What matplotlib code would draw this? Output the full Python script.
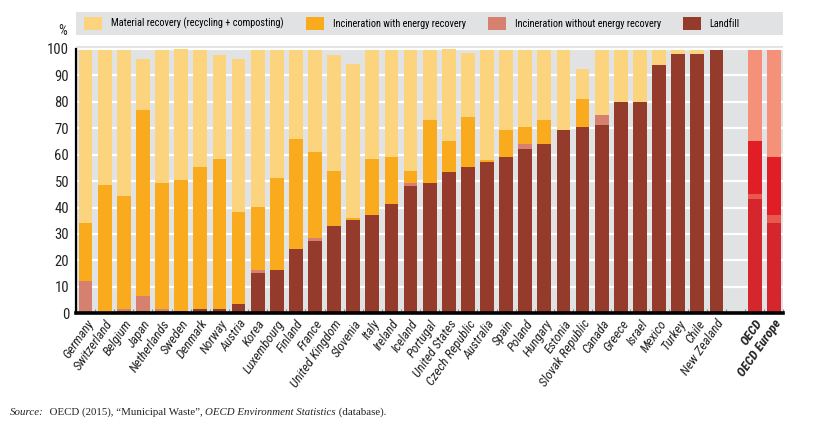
import numpy as np
import matplotlib
matplotlib.use("Agg")
import matplotlib.pyplot as plt
from matplotlib import font_manager as fm
from matplotlib.patches import Patch, Rectangle

# pick a narrow sans if one is around, the original uses a condensed face
_fonts = {(f.name, f.stretch) for f in fm.fontManager.ttflist}
_names = {f[0] for f in _fonts}
stretch = "normal"
if "Liberation Sans Narrow" in _names:
    family = "Liberation Sans Narrow"
elif "Roboto Condensed" in _names:
    family = "Roboto Condensed"
elif ("DejaVu Sans", "condensed") in _fonts or ("DejaVu Sans", "semi-condensed") in _fonts:
    family = "DejaVu Sans"
    stretch = "condensed"
else:
    family = "Liberation Sans"
plt.rcParams['font.family'] = [family, 'DejaVu Sans']
plt.rcParams['font.stretch'] = stretch

# Municipal waste treatment, share of total (%)
countries = ["Germany", "Switzerland", "Belgium", "Japan", "Netherlands", "Sweden",
             "Denmark", "Norway", "Austria", "Korea", "Luxembourg", "Finland", "France",
             "United Kingdom", "Slovenia", "Italy", "Ireland", "Iceland", "Portugal",
             "United States", "Czech Republic", "Australia", "Spain", "Poland", "Hungary",
             "Estonia", "Slovak Republic", "Canada", "Greece", "Israel", "Mexico", "Turkey",
             "Chile", "New Zealand"]
landfill = [0.3, 0.2, 1.0, 1.0, 1.0, 0.7, 1.7, 1.8, 3.5, 15.4, 16.5, 24.2, 27.5,
            33.2, 35.2, 37.1, 41.3, 48.2, 49.1, 53.3, 55.2, 57.1, 59.1, 62.2, 64.1,
            69.2, 70.3, 71.1, 80.0, 80.0, 93.9, 98.2, 98.2, 99.5]
incin_wo = [12.0, 0, 0.8, 5.6, 0.8, 0, 0, 0, 0, 1.0, 0, 0, 0.8,
            0, 0, 0, 0, 1.0, 0, 0, 0, 0, 0, 1.9, 0,
            0, 0, 3.9, 0, 0, 0, 0, 0, 0]
incin_w = [22.0, 48.2, 42.5, 70.3, 47.6, 49.6, 53.6, 56.4, 34.8, 23.8, 34.5, 41.8, 32.7,
           20.8, 0.9, 21.1, 17.8, 4.8, 24.0, 12.0, 19.0, 1.0, 10.1, 6.2, 9.0,
           0, 10.9, 0, 0, 0, 0, 0, 0, 0]
material = [65.2, 51.1, 55.2, 19.3, 50.1, 49.7, 44.2, 39.3, 57.9, 59.3, 48.5, 33.5, 38.5,
            43.5, 58.2, 41.3, 40.4, 45.5, 26.4, 34.7, 24.3, 41.4, 30.3, 29.2, 26.4,
            30.3, 11.0, 24.5, 19.5, 19.5, 5.6, 1.3, 1.3, 0]

aggregates = ["OECD", "OECD Europe"]
agg_landfill = [43.2, 34.3]
agg_incin_wo = [1.9, 2.8]
agg_incin_w = [20.2, 22.0]
agg_material = [34.2, 40.4]

legend_labels = ["Material recovery (recycling + composting)", "Incineration with energy recovery",
                 "Incineration without energy recovery", "Landfill"]

c_cols = ["#fdd47e", "#f9aa1d", "#d68070", "#943b2b"]
a_cols = ["#f59079", "#e11d25", "#e8584f", "#d6262d"]
bg = "#e1e2e4"

fig = plt.figure(figsize=(8.4, 4.26), dpi=100)
renderer = fig.canvas.get_renderer()

def fit_size(text, target_px, **kw):
    # font size that makes `text` about target_px wide
    t = fig.text(0, 0, text, fontsize=10, **kw)
    wpx = t.get_window_extent(renderer).width
    t.remove()
    return 10 * target_px / wpx

xfs = fit_size("United Kingdom", 79, style="italic")
yfs = 10.5
lfs = fit_size(legend_labels[0], 173)
src_fs = max(7.8, fit_size("Source:  OECD (2015), \u201cMunicipal Waste\u201d, OECD Environment "
                           "Statistics (database).", 315, family="Liberation Serif",
                           stretch="normal"))

ax = fig.add_axes([0.0905, 0.2645, 0.842, 0.627])
ax.set_facecolor(bg)

n = len(countries)
x = np.arange(n)
xa = np.arange(n + 1, n + 3)
w = 0.72

def stack(pos, vals, cols):
    bottom = np.zeros(len(pos))
    for v, c in zip(vals, cols):
        ax.bar(pos, v, w, bottom=bottom, color=c, zorder=3, linewidth=0)
        bottom += np.array(v)

stack(x, [landfill, incin_wo, incin_w, material], c_cols[::-1])
stack(xa, [agg_landfill, agg_incin_wo, agg_incin_w, agg_material], a_cols[::-1])

ax.set_xlim(-0.5, n + 2.5)
ax.set_ylim(0, 101)
ax.set_yticks(np.arange(0, 101, 10))
ax.yaxis.grid(True, color="white", linewidth=1.6, zorder=1)
ax.set_axisbelow(True)
for s in ["top", "right"]:
    ax.spines[s].set_visible(False)
ax.spines["left"].set_linewidth(1.6)
ax.spines["left"].set_bounds(0, 100)
ax.spines["bottom"].set_linewidth(2.6)
ax.spines["bottom"].set_zorder(5)
ax.tick_params(axis="y", length=0, pad=5, labelsize=yfs, colors="#222222")

# little ticks between bars
ax.set_xticks(np.arange(-0.5, n + 3, 1), minor=True)
ax.tick_params(axis="x", which="minor", direction="in", length=3, color="#888888", width=0.8)
ax.tick_params(axis="x", which="major", length=0, pad=3)
ax.set_xticks(list(x) + list(xa))
ax.set_xticklabels(countries + aggregates, rotation=55, ha="right", rotation_mode="anchor",
                   fontsize=xfs, style="italic", color="#222222")
for lbl in ax.get_xticklabels()[-2:]:
    lbl.set_fontweight("bold")

fig.text(0.075, 0.928, "%", fontsize=10, ha="center", va="center", color="#222222")

# legend band
fig.add_artist(Rectangle((0.0905, 0.918), 0.842, 0.054, transform=fig.transFigure,
                         facecolor=bg, edgecolor="none"))
handles = [Patch(facecolor=c, edgecolor="none") for c in c_cols]
fpx = lfs * 100 / 72
fig.legend(handles, legend_labels, loc="center left", bbox_to_anchor=(0.1, 0.945), ncol=4,
           frameon=False, fontsize=lfs, borderpad=0, borderaxespad=0,
           handlelength=18 / fpx, handleheight=16 / fpx,
           columnspacing=22 / fpx, handletextpad=9 / fpx)

# source line with mixed italics
parts = [("Source:", "italic"), ("  OECD (2015), \u201cMunicipal Waste\u201d, ", "normal"),
         ("OECD Environment Statistics", "italic"), (" (database).", "normal")]
prev = None
for s, st in parts:
    kw = dict(fontsize=src_fs, family="Liberation Serif", stretch="normal", style=st,
              color="#222222", va="bottom")
    if prev is None:
        prev = fig.text(0.012, 0.022, s, **kw)
    else:
        prev = ax.annotate(s, xy=(1, 0), xycoords=prev, annotation_clip=False, **kw)

fig.savefig("out.png", dpi=100)
